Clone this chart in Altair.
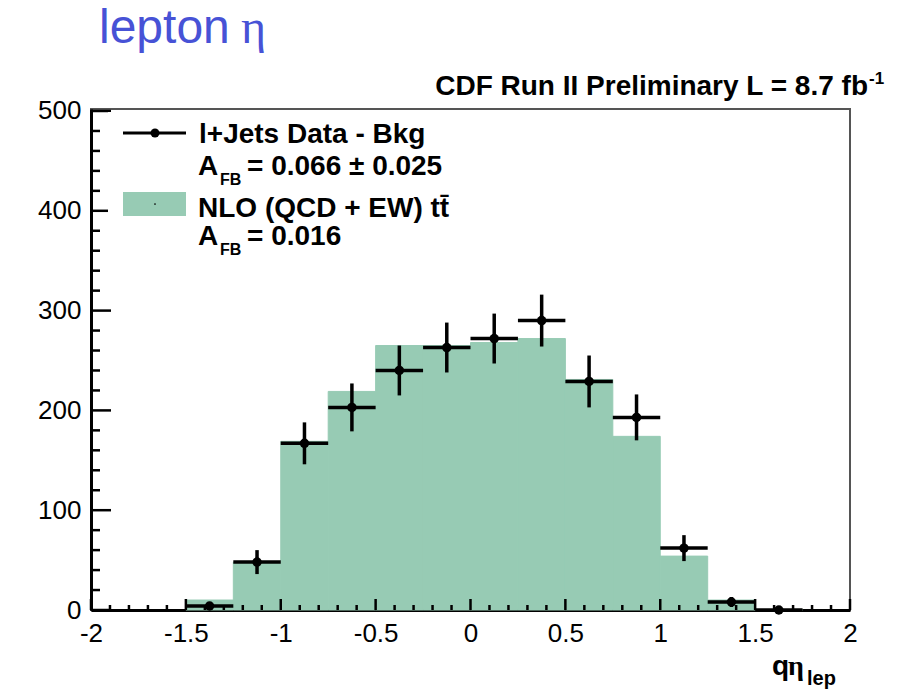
import altair as alt
import pandas as pd
import numpy as np

# ---------------- data ----------------
bin_lo = [-1.5, -1.25, -1.0, -0.75, -0.5, -0.25, 0.0, 0.25, 0.5, 0.75, 1.0, 1.25, 1.5]
bin_width = 0.25
nlo_counts = [10, 48, 169, 219, 265, 265, 268, 272, 231, 174, 54, 10, 0]
data_counts = [4, 48, 167, 203, 240, 263, 272, 290, 229, 193, 62, 8, 0]
data_errors = [4, 12, 21, 24, 25, 25, 25, 26, 26, 23, 13, 5, 2]

x_tick_labels = [-2, -1.5, -1, -0.5, 0, 0.5, 1, 1.5, 2]
y_tick_labels = [0, 100, 200, 300, 400, 500]

X_DOMAIN = [-2, 2]
Y_DOMAIN = [0, 502]
W, H = 759, 501

FONT = "Liberation Sans"
SERIF = "Liberation Serif"
GREEN = "#97cbb4"
BLUE = "#4752d6"

df = pd.DataFrame({
    "lo": bin_lo,
    "hi": [b + bin_width for b in bin_lo],
    "c": [b + bin_width / 2 for b in bin_lo],
    "nlo": nlo_counts,
    "val": data_counts,
    "ylo": [v - e for v, e in zip(data_counts, data_errors)],
    "yhi": [v + e for v, e in zip(data_counts, data_errors)],
})

xs = alt.Scale(domain=X_DOMAIN, nice=False, zero=False)
ys = alt.Scale(domain=Y_DOMAIN, nice=False, zero=False)

x_axis = alt.Axis(values=x_tick_labels, labelExpr="toString(datum.value)", ticks=False,
                  grid=False, domain=True, domainColor="black", domainWidth=3,
                  labelFont=FONT, labelFontSize=26, labelColor="black", labelPadding=10,
                  labelFlush=False, title=None)
y_axis = alt.Axis(values=y_tick_labels, ticks=False, grid=False, domain=True,
                  domainColor="black", domainWidth=3, labelFont=FONT, labelFontSize=26,
                  labelColor="black", labelPadding=10, title=None)

base = alt.Chart(df)

hist = base.mark_rect(color=GREEN, stroke=GREEN, strokeWidth=1).encode(
    x=alt.X("lo:Q", scale=xs, axis=x_axis),
    x2="hi:Q",
    y=alt.Y("nlo:Q", scale=ys, axis=y_axis),
    y2=alt.datum(0),
)

# inward ticks (ROOT style); lengths expressed in data units of the other axis
px_x = (X_DOMAIN[1] - X_DOMAIN[0]) / W   # data units per pixel, x
px_y = (Y_DOMAIN[1] - Y_DOMAIN[0]) / H   # data units per pixel, y

x_major = pd.DataFrame({"t": x_tick_labels})
x_minor = pd.DataFrame({"t": [round(float(v), 2) for v in np.arange(-2, 2.001, 0.1)
                              if abs(v * 2 - round(v * 2)) > 1e-6]})
y_major = pd.DataFrame({"t": y_tick_labels})
y_minor = pd.DataFrame({"t": [v for v in range(0, 501, 20) if v % 100 != 0]})

tick_x_major = alt.Chart(x_major).mark_rule(color="black", strokeWidth=2.5).encode(
    x=alt.X("t:Q", scale=xs), y=alt.datum(0), y2=alt.datum(11 * px_y))
tick_x_minor = alt.Chart(x_minor).mark_rule(color="black", strokeWidth=2.5).encode(
    x=alt.X("t:Q", scale=xs), y=alt.datum(0), y2=alt.datum(5 * px_y))
tick_y_major = alt.Chart(y_major).mark_rule(color="black", strokeWidth=2.5).encode(
    y=alt.Y("t:Q", scale=ys), x=alt.datum(X_DOMAIN[0]), x2=alt.datum(X_DOMAIN[0] + 20 * px_x))
tick_y_minor = alt.Chart(y_minor).mark_rule(color="black", strokeWidth=2.5).encode(
    y=alt.Y("t:Q", scale=ys), x=alt.datum(X_DOMAIN[0]), x2=alt.datum(X_DOMAIN[0] + 9 * px_x))

one = pd.DataFrame({"a": [0]})


def txt(text, x, y, size, font=FONT, weight="bold", color="black", align="left", baseline="alphabetic"):
    return alt.Chart(one).mark_text(text=text, font=font, fontSize=size, fontWeight=weight,
                                    color=color, align=align, baseline=baseline).encode(
        x=alt.value(x), y=alt.value(y))


# legend
leg_box = alt.Chart(one).mark_rect(color="white").encode(
    x=alt.value(17), x2=alt.value(390), y=alt.value(3), y2=alt.value(150))
leg_line = alt.Chart(one).mark_rule(color="black", strokeWidth=3).encode(
    x=alt.value(32), x2=alt.value(95), y=alt.value(24))
leg_dot = alt.Chart(one).mark_circle(color="black", size=80, opacity=1).encode(
    x=alt.value(64), y=alt.value(24))
leg_rect = alt.Chart(one).mark_rect(color=GREEN).encode(
    x=alt.value(32), x2=alt.value(95), y=alt.value(83), y2=alt.value(107))
leg_rect_dot = alt.Chart(one).mark_circle(color="black", size=3, opacity=1).encode(
    x=alt.value(64), y=alt.value(95))

legend_texts = [
    txt("l+Jets Data - Bkg", 108, 34, 28),
    txt("A", 107, 66, 28),
    txt("FB", 129, 76, 16),
    txt("= 0.066 \u00b1 0.025", 156, 66, 28),
    txt("NLO (QCD + EW) tt\u0304", 107, 108, 28),
    txt("A", 107, 136, 28),
    txt("FB", 129, 146, 16),
    txt("= 0.016", 156, 136, 28),
]

# data points with error bars
hbar = base.mark_rule(color="black", strokeWidth=3.5).encode(
    x=alt.X("lo:Q", scale=xs), x2="hi:Q", y=alt.Y("val:Q", scale=ys))
vbar = base.mark_rule(color="black", strokeWidth=3.5).encode(
    x=alt.X("c:Q", scale=xs), y=alt.Y("ylo:Q", scale=ys), y2="yhi:Q")
pts = base.mark_circle(color="black", size=90, opacity=1).encode(
    x=alt.X("c:Q", scale=xs), y=alt.Y("val:Q", scale=ys))

# annotations
other_texts = [
    txt("lepton", 8, -66, 48, weight="normal", color=BLUE),
    txt("\u03b7", 150, -66, 48, font=SERIF, weight="normal", color=BLUE),
    txt("CDF Run II Preliminary L = 8.7 fb", 777, -14, 28, align="right"),
    txt("-1", 778, -25, 17),
    txt("q", 681, 566, 28),
    txt("\u03b7", 697, 566, 28, font=SERIF),
    txt("lep", 716, 576, 20),
]

chart = alt.layer(
    hist, tick_x_major, tick_x_minor, tick_y_major, tick_y_minor,
    leg_box, leg_line, leg_dot, leg_rect, leg_rect_dot, *legend_texts,
    hbar, vbar, pts, *other_texts,
).properties(
    width=W, height=H,
    padding={"left": 91, "top": 109, "right": 48, "bottom": 82},
    autosize=alt.AutoSizeParams(type="none"),
    background="white",
).configure_view(stroke="#555555", strokeWidth=2)

chart.save("out.html", embed_options={"renderer": "svg", "actions": False})
